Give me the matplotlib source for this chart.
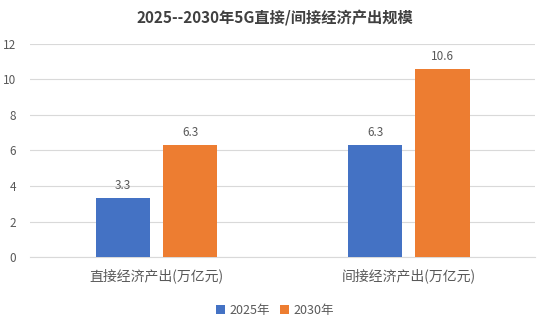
import matplotlib
matplotlib.use("Agg")
from matplotlib import pyplot as plt
import numpy as np

plt.rcParams['font.family'] = ['Noto Sans CJK SC', 'DejaVu Sans']

categories = ["直接经济产出(万亿元)", "间接经济产出(万亿元)"]
series_names = ["2025年", "2030年"]
values_2025 = [3.3, 6.3]
values_2030 = [6.3, 10.6]

blue = "#4472C4"
orange = "#ED7D31"
text_color = "#595959"

fig = plt.figure(figsize=(5.5, 3.3), dpi=100)
ax = fig.add_axes([0.055, 0.221, 0.918, 0.646])

x = np.arange(len(categories))
w = 0.214
off = 0.133
b1 = ax.bar(x - off, values_2025, w, color=blue, label=series_names[0], zorder=3)
b2 = ax.bar(x + off, values_2030, w, color=orange, label=series_names[1], zorder=3)

for bars, vals in [(b1, values_2025), (b2, values_2030)]:
    for rect, v in zip(bars, vals):
        ax.text(rect.get_x() + rect.get_width() / 2, v + 0.35, "%.1f" % v,
                ha="center", va="bottom", fontsize=8.5, color=text_color)

ax.set_xlim(-0.5, 1.5)
ax.set_ylim(0, 12)
ax.set_yticks(range(0, 13, 2))
ax.set_xticks(x)
ax.set_xticklabels(categories, fontsize=10, color=text_color)
ax.tick_params(axis="y", labelsize=8.5, colors=text_color, length=0, pad=10)
ax.tick_params(axis="x", length=0, pad=8)
ax.grid(axis="y", color="#D9D9D9", linewidth=0.8, zorder=0)
for s in ["top", "right", "left"]:
    ax.spines[s].set_visible(False)
ax.spines["bottom"].set_color("#D9D9D9")

fig.text(0.5, 0.948, "2025--2030年5G直接/间接经济产出规模", ha="center", va="center",
         fontsize=11, fontweight="bold", color="#404040")

fig.legend(loc="center", bbox_to_anchor=(0.5, 0.06), ncol=2, frameon=False,
           fontsize=9, handlelength=0.7, handleheight=0.7, columnspacing=0.8,
           handletextpad=0.4, labelcolor=text_color)

fig.savefig("out.png", dpi=100)
